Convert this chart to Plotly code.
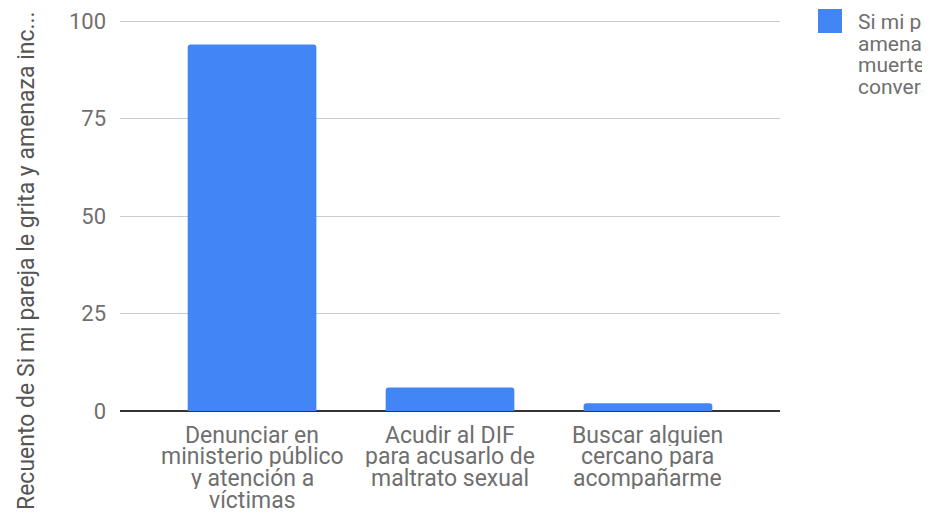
import plotly.graph_objects as go

# data
categories = [
    "Denunciar en ministerio público y atención a víctimas",
    "Acudir al DIF para acusarlo de maltrato sexual",
    "Buscar alguien cercano para acompañarme",
]
category_lines = [
    ["Denunciar en", "ministerio público", "y atención a", "víctimas"],
    ["Acudir al DIF", "para acusarlo de", "maltrato sexual"],
    ["Buscar alguien", "cercano para", "acompañarme"],
]
counts = [94, 6, 2]
y_ticks = [0, 25, 50, 75, 100]
legend_lines = ["Si mi pareja le grita y", "amenaza incluso de", "muerte, prefiero", "conversar con él"]
y_title = "Recuento de Si mi pareja le grita y amenaza inc..."

blue = "#4285F4"
grey_text = "#6f6f6f"
font_family = "Roboto, Arial, sans-serif"

# the page body has an 8px margin, so the figure is 8px smaller than the window
W, H = 922, 509
left, top, right, bottom = 112, 12, 150, 106
plot_w = W - left - right
plot_h = H - top - bottom


def px_x(page_x):
    return (page_x - 8 - left) / plot_w


def px_y(page_y):
    return (H - bottom - (page_y - 8)) / plot_h


fig = go.Figure()
fig.add_trace(go.Bar(
    x=categories,
    y=counts,
    marker=dict(color=blue, cornerradius=3, line=dict(width=0)),
    showlegend=False,
))

fig.update_layout(
    width=W,
    height=H,
    margin=dict(l=left, r=right, t=top, b=bottom, autoexpand=False),
    paper_bgcolor="white",
    plot_bgcolor="white",
    font=dict(family=font_family, size=22, color=grey_text),
    bargap=0.35,
    xaxis=dict(
        range=[-0.667, 2.667],
        showgrid=False,
        showticklabels=False,
        ticks="",
        showline=False,
        automargin=False,
    ),
    yaxis=dict(
        range=[0, 100.3],
        tickvals=y_ticks,
        showgrid=True,
        gridcolor="#cccccc",
        gridwidth=1,
        zeroline=True,
        zerolinecolor="#333333",
        zerolinewidth=2,
        tickfont=dict(size=22, color=grey_text),
        ticks="",
        ticklabelstandoff=13,
        ticklabeloverflow="allow",
        automargin=False,
    ),
    showlegend=False,
)

# category labels, one line at a time (tight line spacing as in the reference)
line_gap = 21.7
for cat, lines in zip(categories, category_lines):
    for i, line in enumerate(lines):
        fig.add_annotation(
            text=line,
            xref="x", yref="paper",
            x=cat, y=px_y(435 + i * line_gap),
            xanchor="center", yanchor="middle",
            height=21,
            showarrow=False,
            font=dict(size=23, color=grey_text),
        )

# y axis title (rotated)
fig.add_annotation(
    text=y_title,
    xref="paper", yref="paper",
    x=px_x(26), y=px_y(261),
    textangle=-90,
    showarrow=False,
    font=dict(size=23, color="#555555"),
    xanchor="center", yanchor="middle",
)

# legend: coloured square + series name (runs off the right edge in the reference)
fig.add_shape(
    type="rect",
    xref="paper", yref="paper",
    x0=px_x(818), x1=px_x(842),
    y0=px_y(33), y1=px_y(9),
    fillcolor=blue, line=dict(width=0),
)
for i, line in enumerate(legend_lines):
    fig.add_annotation(
        text=line,
        xref="paper", yref="paper",
        x=px_x(856), y=px_y(21 + i * 22),
        xanchor="left", yanchor="middle",
        height=21,
        align="left",
        showarrow=False,
        font=dict(size=21, color=grey_text),
    )

fig.write_html("out.html")
